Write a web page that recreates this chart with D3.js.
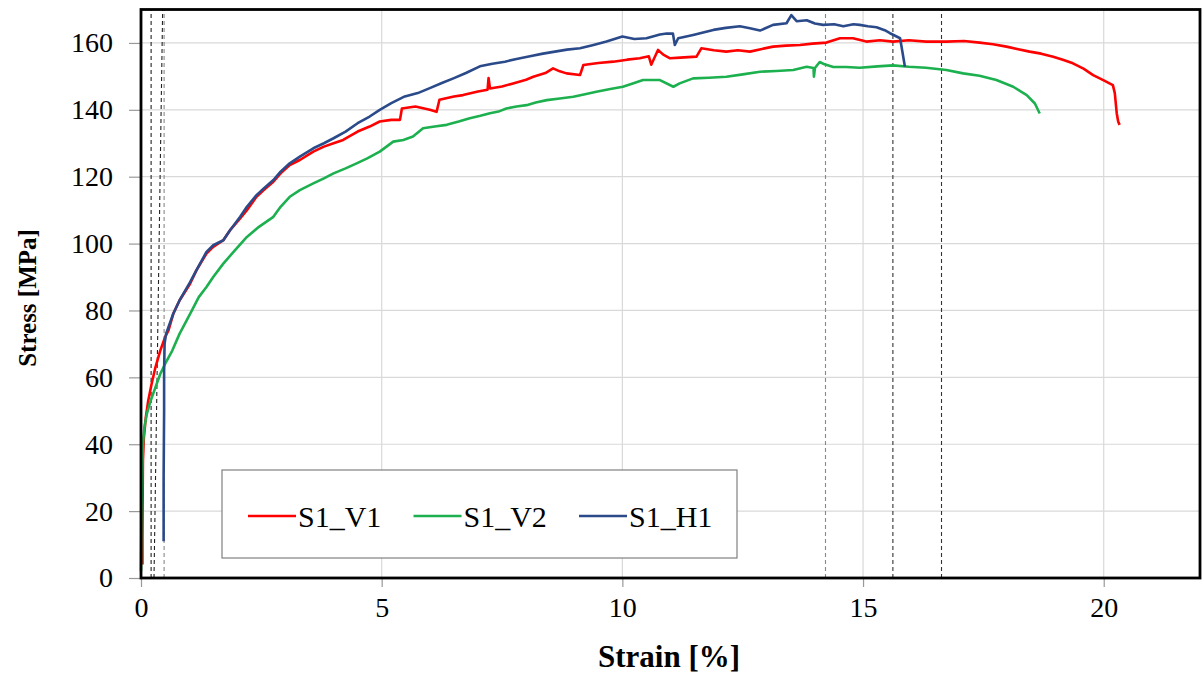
<!DOCTYPE html>
<html>
<head>
<meta charset="utf-8">
<script src="https://cdn.jsdelivr.net/npm/d3@7/dist/d3.min.js"></script>
<style>
  html, body { margin: 0; padding: 0; background: #fff; }
  svg { display: block; }
  text { font-family: "Liberation Serif", "Times New Roman", serif; fill: #000; }
</style>
</head>
<body>
<svg id="chart" width="1203" height="675"></svg>
<script>
// Tensile test curves: engineering strain [%] vs stress [MPa]
const seriesNames = ["S1_V1", "S1_V2", "S1_H1"];
const seriesColors = ["#ff0000", "#1db04f", "#2b4a8a"];

const s1v1 = [[0.03,4],[0.03,12],[0.035,25],[0.04,35],[0.06,42],[0.1,48],[0.15,53],[0.22,58],[0.3,63],[0.4,68],[0.5,72],[0.57,74],[0.67,79],[0.8,83],[1.02,88],[1.15,92],[1.36,97],[1.5,99],[1.71,101],[1.85,104],[2.06,107.5],[2.2,110],[2.4,114],[2.55,116],[2.75,118.5],[2.9,121],[3.09,123.5],[3.3,125],[3.58,127.5],[3.8,129],[4.0,130],[4.2,131],[4.5,133.5],[4.75,135],[4.96,136.5],[5.2,137],[5.38,137],[5.42,140.4],[5.7,141],[6.0,140],[6.14,139.4],[6.2,143],[6.5,144],[6.69,144.4],[7.0,145.5],[7.2,146],[7.22,149.5],[7.25,146.4],[7.5,147],[7.73,147.9],[8.0,149],[8.15,149.9],[8.4,151],[8.56,152.4],[8.7,151.5],[8.84,150.9],[9.12,150.4],[9.19,153.4],[9.5,154],[9.81,154.4],[10.1,155],[10.36,155.4],[10.55,156],[10.6,153.5],[10.74,157.9],[10.85,156.5],[10.99,155.4],[11.2,155.6],[11.54,155.9],[11.64,158.4],[11.9,157.8],[12.16,157.4],[12.4,157.8],[12.65,157.4],[12.9,158.2],[13.13,158.9],[13.4,159.2],[13.69,159.4],[13.95,159.8],[14.24,160.1],[14.52,161.4],[14.79,161.4],[15.07,160.4],[15.35,160.8],[15.62,160.4],[15.95,160.8],[16.31,160.4],[16.73,160.4],[17.1,160.6],[17.42,160.1],[17.7,159.6],[17.98,158.9],[18.2,158.2],[18.46,157.4],[18.7,156.8],[18.95,155.9],[19.15,155],[19.36,153.9],[19.58,152.3],[19.78,150.4],[20.0,148.8],[20.19,147.4],[20.23,145],[20.27,139],[20.3,136.5],[20.33,135.5]];

const s1v2 = [[0.0,2],[0.005,10],[0.01,20],[0.02,30],[0.04,40],[0.07,45],[0.12,49],[0.2,53],[0.3,57],[0.4,61],[0.5,64],[0.65,68],[0.8,73],[1.02,79],[1.2,84],[1.36,87],[1.5,90],[1.71,94],[1.95,98],[2.2,102],[2.45,105],[2.75,108],[2.9,111],[3.09,114],[3.3,116],[3.58,118],[3.8,119.5],[4.0,121],[4.25,122.5],[4.48,124],[4.7,125.5],[4.96,127.5],[5.24,130.5],[5.45,131],[5.65,132],[5.86,134.5],[6.1,135],[6.35,135.5],[6.6,136.5],[6.83,137.5],[7.05,138.2],[7.25,139],[7.45,139.6],[7.59,140.4],[7.8,141],[8.01,141.4],[8.2,142.2],[8.43,142.9],[8.7,143.4],[8.98,143.9],[9.2,144.6],[9.46,145.4],[9.75,146.2],[10.01,146.9],[10.2,147.8],[10.43,148.9],[10.6,148.9],[10.78,148.9],[11.06,146.9],[11.19,147.9],[11.47,149.4],[11.8,149.6],[12.16,149.9],[12.5,150.6],[12.86,151.4],[13.2,151.6],[13.55,151.9],[13.83,152.9],[13.97,152.5],[13.98,149.9],[14.0,152.5],[14.1,154.3],[14.2,153.6],[14.38,152.8],[14.65,152.8],[14.93,152.6],[15.3,153],[15.62,153.3],[15.95,152.9],[16.31,152.6],[16.73,151.9],[17.08,150.9],[17.42,150.2],[17.77,148.9],[18.12,146.9],[18.4,144.4],[18.57,141.9],[18.67,138.9]];

const s1h1 = [[0.47,11],[0.47,30],[0.48,50],[0.48,62],[0.49,70],[0.52,73],[0.57,75],[0.67,79],[0.8,83],[1.02,88.5],[1.15,92],[1.36,97.5],[1.5,99.5],[1.71,101],[1.85,104],[2.06,108],[2.2,111],[2.4,114.5],[2.55,116.5],[2.75,119],[2.9,121.5],[3.09,124],[3.3,126],[3.58,128.5],[3.8,130],[4.0,131.5],[4.25,133.5],[4.5,136],[4.75,138],[4.96,140],[5.2,142],[5.48,144],[5.75,145],[6.0,146.5],[6.25,148],[6.49,149.4],[6.75,151],[7.04,153],[7.3,153.8],[7.56,154.4],[7.8,155.2],[8.08,156],[8.35,156.8],[8.6,157.4],[8.85,158],[9.12,158.4],[9.4,159.4],[9.67,160.4],[10.0,161.9],[10.25,161.2],[10.5,161.4],[10.78,162.5],[10.92,162.8],[11.05,162.8],[11.09,159.4],[11.16,161.4],[11.47,162.4],[11.7,163.2],[11.89,163.9],[12.15,164.5],[12.44,165],[12.65,164.4],[12.86,163.7],[13.13,165.4],[13.41,165.9],[13.51,168.3],[13.62,166.5],[13.83,166.8],[14.0,165.8],[14.17,165.4],[14.4,165.6],[14.59,165],[14.8,165.6],[14.93,165.4],[15.1,165],[15.28,164.7],[15.45,163.8],[15.56,162.9],[15.77,161.4],[15.87,152.9]];

// Dashed reference lines: [strain at 0 MPa, strain at 170 MPa, colour]
const refLines = [
  [0.21, 0.21, "#222"],
  [0.27, 0.45, "#222"],
  [0.48, 0.48, "#888"],
  [14.22, 14.22, "#888"],
  [15.62, 15.62, "#333"],
  [16.63, 16.63, "#333"]
];

const xTicks = [0, 5, 10, 15, 20];
const yTicks = [0, 20, 40, 60, 80, 100, 120, 140, 160];

const svg = d3.select("#chart");
const plot = { left: 141, right: 1200, top: 9.5, bottom: 578 };

const x = d3.scaleLinear().domain([0, 22]).range([plot.left, plot.right]);
const y = d3.scaleLinear().domain([0, 170]).range([plot.bottom, plot.top]);

// grid
const grid = svg.append("g");
grid.selectAll("line.h").data(yTicks.slice(1)).join("line")
  .attr("x1", plot.left).attr("x2", plot.right)
  .attr("y1", d => y(d)).attr("y2", d => y(d))
  .attr("stroke", "#d9d9d9").attr("stroke-width", 1.2);
grid.selectAll("line.v").data(xTicks.slice(1)).join("line")
  .attr("y1", plot.top).attr("y2", plot.bottom)
  .attr("x1", d => x(d)).attr("x2", d => x(d))
  .attr("stroke", "#d9d9d9").attr("stroke-width", 1.2);

// axes
const serif = "'Liberation Serif', 'Times New Roman', serif";
const yAxis = svg.append("g")
  .attr("transform", `translate(${plot.left},0)`)
  .call(d3.axisLeft(y).tickValues(yTicks).tickSize(12).tickPadding(16));
const xAxis = svg.append("g")
  .attr("transform", `translate(0,${plot.bottom})`)
  .call(d3.axisBottom(x).tickValues(xTicks).tickSize(9).tickPadding(10));
[yAxis, xAxis].forEach(a => {
  a.attr("font-family", serif).attr("font-size", 28);
  a.select(".domain").remove();
  a.selectAll(".tick line").attr("stroke", "#999").attr("stroke-width", 1.2);
  a.selectAll(".tick text").attr("fill", "#000")
    .style("font-family", serif).style("font-size", "28px");
});

// dashed reference lines
svg.append("g").selectAll("line").data(refLines).join("line")
  .attr("x1", d => x(d[0])).attr("y1", y(0))
  .attr("x2", d => x(d[1])).attr("y2", y(170))
  .attr("stroke", d => d[2]).attr("stroke-width", 1.1)
  .attr("stroke-dasharray", "4,3");

// curves
const line = d3.line().x(d => x(d[0])).y(d => y(d[1]));
const allSeries = [s1v1, s1v2, s1h1];
svg.append("g").selectAll("path").data(allSeries).join("path")
  .attr("d", line)
  .attr("fill", "none")
  .attr("stroke", (d, i) => seriesColors[i])
  .attr("stroke-width", 2.6)
  .attr("stroke-linejoin", "round");

// frame
svg.append("rect")
  .attr("x", plot.left).attr("y", plot.top)
  .attr("width", plot.right - plot.left).attr("height", plot.bottom - plot.top)
  .attr("fill", "none").attr("stroke", "#000").attr("stroke-width", 2.8);

// legend
const lg = svg.append("g");
lg.append("rect").attr("x", 222).attr("y", 470).attr("width", 515).attr("height", 88)
  .attr("fill", "#fff").attr("stroke", "#808080").attr("stroke-width", 1.2);
seriesNames.forEach((name, i) => {
  const lx = 248 + i * 165.5;
  lg.append("line").attr("x1", lx).attr("x2", lx + 48).attr("y1", 516).attr("y2", 516)
    .attr("stroke", seriesColors[i]).attr("stroke-width", 2.6);
  lg.append("text").attr("x", lx + 50).attr("y", 527)
    .style("font-family", serif).style("font-size", "30px").text(name);
});

// axis titles
svg.append("text")
  .attr("transform", "translate(36,298) rotate(-90)")
  .attr("text-anchor", "middle")
  .style("font-family", serif)
  .style("font-size", "25px").style("font-weight", "bold")
  .text("Stress [MPa]");
svg.append("text")
  .attr("x", 669).attr("y", 667)
  .attr("text-anchor", "middle")
  .style("font-family", serif)
  .style("font-size", "31px").style("font-weight", "bold")
  .text("Strain [%]");
</script>
</body>
</html>
